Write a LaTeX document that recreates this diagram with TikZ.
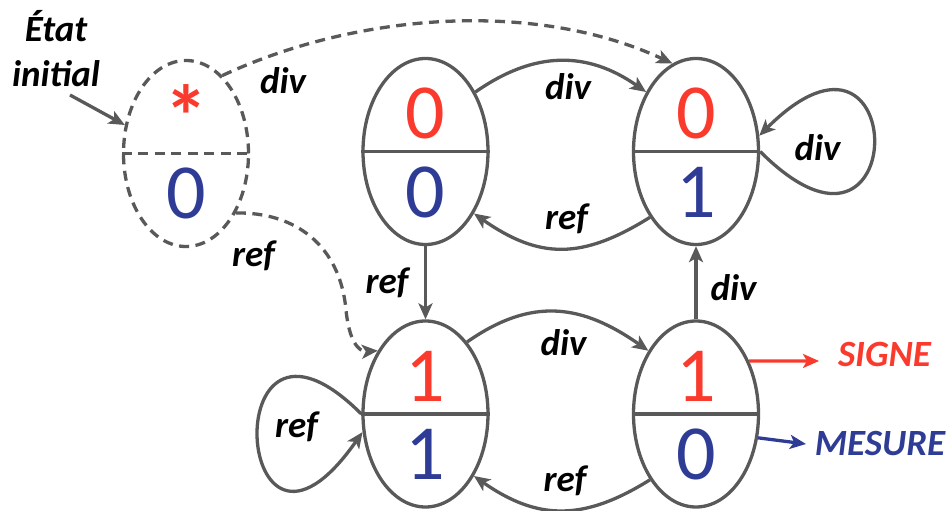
\documentclass[tikz,border=0pt]{standalone}
\usepackage{fontspec}
\setmainfont{Carlito}
\usetikzlibrary{arrows.meta,shapes.geometric}
\definecolor{cred}{RGB}{250,58,44}
\definecolor{cblue}{RGB}{46,60,150}
\definecolor{cgray}{RGB}{89,89,89}
\begin{document}
\begin{tikzpicture}[x=1pt,y=-1pt,
  state/.style={ellipse, draw=cgray, line width=3.3pt, minimum width=125pt, minimum height=186pt, inner sep=0pt},
  dsh/.style={dash pattern=on 10pt off 6.5pt},
  digit/.style={font=\fontsize{78}{78}\selectfont, inner sep=0pt},
  lab/.style={font=\fontsize{37}{37}\selectfont\bfseries\itshape, inner sep=0pt},
  tip/.style={-{Stealth[length=16pt,width=14pt,inset=4pt]}},
  edge/.style={draw=cgray, line width=3.3pt, tip},
  divider/.style={draw=cgray, line width=3.3pt}
]
\useasboundingbox (0,0) rectangle (951,511);

% states
\node[state, dsh] (I) at (186,153.5) {};
\node[state] (A) at (425.5,151.5) {};
\node[state] (B) at (696,151.5) {};
\node[state] (C) at (425.5,414) {};
\node[state] (D) at (696,414) {};

\draw[divider, dsh] (I.west) -- (I.east);
\draw[divider] (A.west) -- (A.east);
\draw[divider] (B.west) -- (B.east);
\draw[divider] (C.west) -- (C.east);
\draw[divider] (D.west) -- (D.east);

% contents
\node[font=\fontsize{88}{88}\selectfont\bfseries, inner sep=0pt, text=cred, anchor=base] (Ia) at (186,147) {*};
\node[digit, text=cblue] (Ib) at (186,193) {0};
\node[digit, text=cred] (Aa) at (425.5,113) {0};
\node[digit, text=cblue] (Ab) at (425.5,192) {0};
\node[digit, text=cred] (Ba) at (696,113) {0};
\node[digit, text=cblue] (Bb) at (696,192) {1};
\node[digit, text=cred] (Ca) at (425.5,376) {1};
\node[digit, text=cblue] (Cb) at (425.5,454) {1};
\node[digit, text=cred] (Da) at (696,376) {1};
\node[digit, text=cblue] (Db) at (696,454) {0};

% initial marker
\node[lab, align=center, font=\fontsize{37}{45}\selectfont\bfseries\itshape] (ei) at (56,49) {État\\initial};
\coordinate (istart) at (70,95);
\draw[edge] (istart) -- (I.155);

% dashed initial transitions
\draw[edge, dsh] (I.65) .. controls +(25:150pt) and +(155:150pt) .. (B.105);
\draw[edge, dsh] (I.310) .. controls (295,212) and (340,245) .. (346,310) .. controls (349,340) and (358,352) .. (C.127);

% transitions
\draw[edge] (A.50) .. controls +(35:72pt) and +(145:72pt) .. (B.130);
\draw[edge] (B.235) .. controls +(212:80pt) and +(325:80pt) .. (A.308);
\draw[edge] (A.south) -- (C.north);
\draw[edge] (D.north) -- (B.south);
\draw[edge] (C.60) .. controls +(35:80pt) and +(145:80pt) .. (D.127);
\draw[edge] (D.235) .. controls +(212:78pt) and +(325:78pt) .. (C.308);
\draw[edge] (C.180) .. controls +(135:210pt) and +(235:225pt) .. (C.196);
\draw[edge] (B.0) .. controls +(-45:215pt) and +(45:215pt) .. (B.14);

% labels
\node[lab] (l1) at (283,81) {div};
\node[lab] (l2) at (253.5,256) {ref};
\node[lab] (l3) at (568,86.5) {div};
\node[lab] (l4) at (566.5,219) {ref};
\node[lab] (l5) at (387,283) {ref};
\node[lab] (l6) at (733.5,288) {div};
\node[lab] (l7) at (563.5,342.5) {div};
\node[lab] (l8) at (565,481) {ref};
\node[lab] (l9) at (296.5,426.5) {ref};
\node[lab] (l10) at (817.5,147.5) {div};

% outputs
\node[lab, text=cred] (signe) at (884.5,354) {SIGNE};
\node[lab, text=cblue] (mesure) at (880,443.5) {MESURE};
\coordinate (sgnTip) at (819,361);
\coordinate (mesTip) at (806,444);
\draw[draw=cred, line width=3.3pt, tip] (D.45) -- (sgnTip);
\draw[draw=cblue, line width=3.3pt, tip] (D.339) -- (mesTip);
\end{tikzpicture}
\end{document}
